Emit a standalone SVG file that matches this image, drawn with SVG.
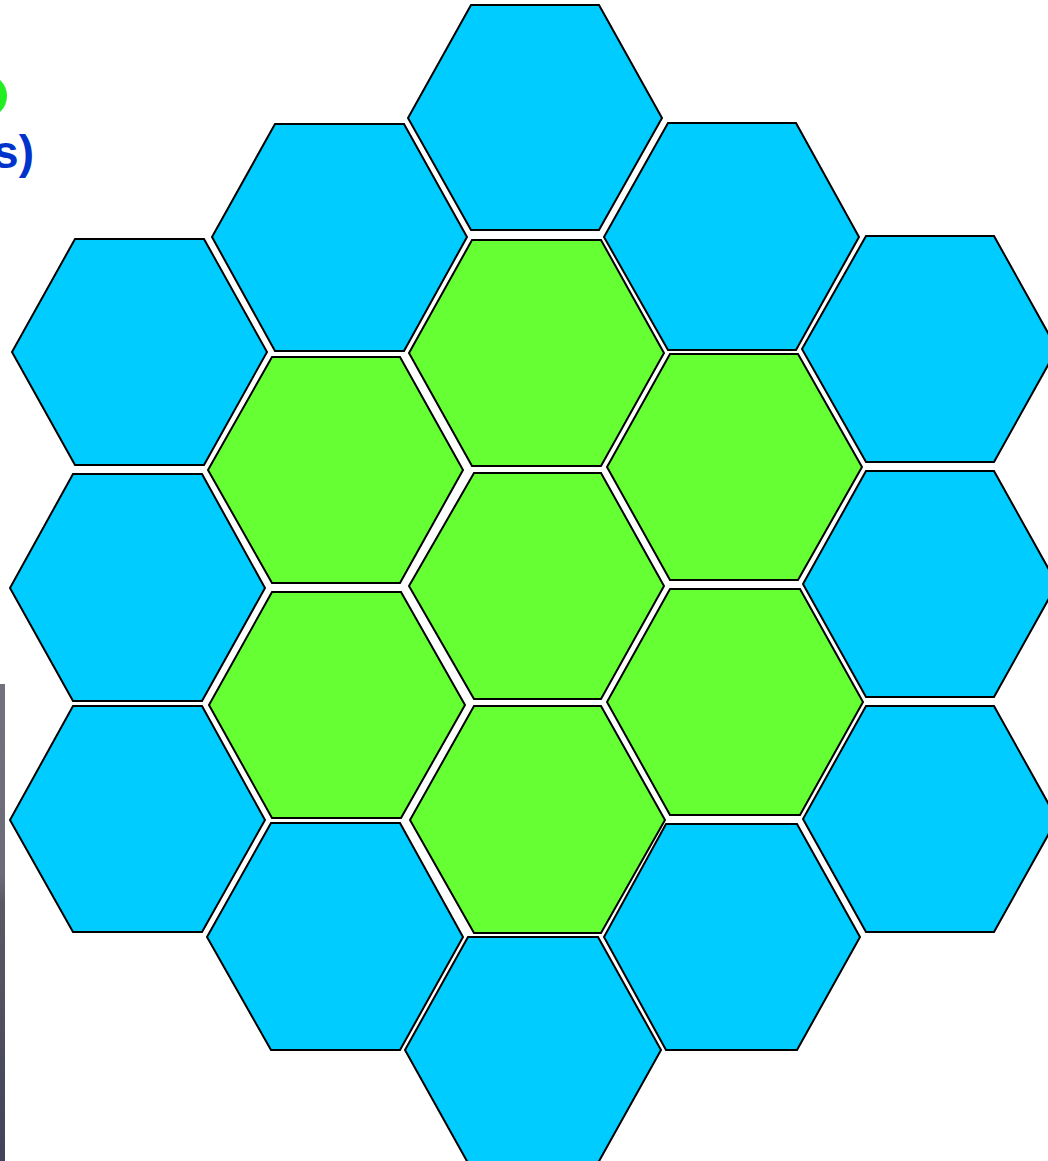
<svg xmlns="http://www.w3.org/2000/svg" width="1048" height="1161" viewBox="0 0 1048 1161">
<defs>
<style>
.hex{stroke:#000;stroke-width:2;stroke-linejoin:miter}
.blue{fill:#00ccff}
.green{fill:#66ff33}
.lbl{font-family:"Liberation Sans",Arial,sans-serif;font-weight:bold;fill:#0033cc}
</style>
<linearGradient id="bar" x1="0" y1="0" x2="0" y2="1">
<stop offset="0" stop-color="#72727f"/>
<stop offset="0.4" stop-color="#6c6c79"/>
<stop offset="0.46" stop-color="#5a5a64"/>
<stop offset="1" stop-color="#42425a"/>
</linearGradient>
</defs>
<rect x="0" y="0" width="1048" height="1161" fill="#fff"/>
<rect x="0" y="684" width="5" height="477" fill="url(#bar)"/>
<circle cx="-15" cy="96" r="22" fill="#22ee22"/>
<text class="lbl" x="34" y="168" font-size="46" text-anchor="end">s)</text>
<g id="hex-c1"><polygon class="hex blue" points="471,5 599,5 662,118 599,230 471,230 408,118"/></g>
<g id="hex-c2"><polygon class="hex green" points="472,240 601,240 664,353 601,466 472,466 409,353"/></g>
<g id="hex-c3"><polygon class="hex green" points="474,473 601,473 664,586 601,699 474,699 409,586"/></g>
<g id="hex-c4"><polygon class="hex green" points="474,706 601,706 665,820 601,933 474,933 410,820"/></g>
<g id="hex-c5"><polygon class="hex blue" points="468,937 598,937 661,1050 598,1163 468,1163 405,1050"/></g>
<g id="hex-l1"><polygon class="hex blue" points="275,124 404,124 467,237 404,351 275,351 212,237"/></g>
<g id="hex-l2"><polygon class="hex green" points="272,357 400,357 463,470 400,583 272,583 208,470"/></g>
<g id="hex-l3"><polygon class="hex green" points="272,592 401,592 465,705 401,818 272,818 209,705"/></g>
<g id="hex-l4"><polygon class="hex blue" points="271,823 400,823 463,937 400,1050 271,1050 207,937"/></g>
<g id="hex-ll1"><polygon class="hex blue" points="75,239 204,239 267,352 204,465 75,465 12,352"/></g>
<g id="hex-ll2"><polygon class="hex blue" points="73,474 202,474 265,588 202,701 73,701 10,588"/></g>
<g id="hex-ll3"><polygon class="hex blue" points="73,706 202,706 265,820 202,932 73,932 10,820"/></g>
<g id="hex-r1"><polygon class="hex blue" points="668,123 796,123 859,237 796,350 668,350 604,237"/></g>
<g id="hex-r2"><polygon class="hex green" points="670,354 798,354 862,467 798,580 670,580 607,467"/></g>
<g id="hex-r3"><polygon class="hex green" points="670,589 800,589 863,702 800,815 670,815 607,702"/></g>
<g id="hex-r4"><polygon class="hex blue" points="666,824 797,824 860,937 797,1050 666,1050 604,937"/></g>
<g id="hex-rr1"><polygon class="hex blue" points="866,236 994,236 1057,349 994,462 866,462 802,349"/></g>
<g id="hex-rr2"><polygon class="hex blue" points="866,471 994,471 1057,584 994,697 866,697 803,584"/></g>
<g id="hex-rr3"><polygon class="hex blue" points="866,706 994,706 1057,819 994,932 866,932 803,819"/></g>
</svg>
